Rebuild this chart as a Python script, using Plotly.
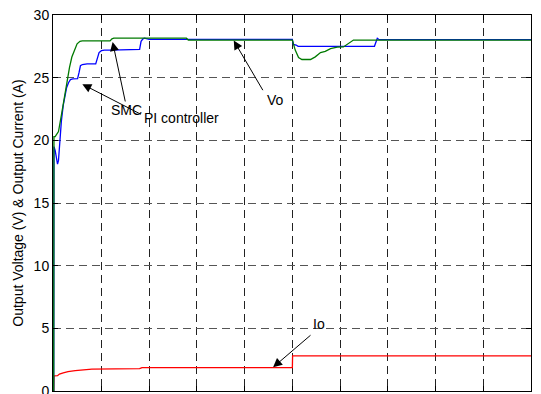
import plotly.graph_objects as go

# ---- data ----
smc_t = [0, 0.0005, 0.003, 0.010, 0.016, 0.021, 0.028, 0.033, 0.038, 0.044, 0.049, 0.055, 0.060,
         0.118, 0.122, 0.126, 0.278, 0.282, 0.500, 0.503, 0.506, 0.513, 0.520, 0.538, 0.548, 0.559,
         0.569, 0.580, 0.594, 0.607, 0.618, 0.624, 0.628, 1.0]
smc_v = [0, 20.3, 20.3, 20.7, 22.0, 23.2, 24.8, 25.8, 26.65, 27.3, 27.7, 27.9, 27.93,
         27.93, 28.1, 28.15, 28.15, 28.0, 28.0, 27.6, 27.2, 26.6, 26.45, 26.45, 26.66, 27.0,
         27.1, 27.32, 27.43, 27.45, 27.72, 27.9, 28.0, 28.0]

pi_t = [0, 0.0005, 0.003, 0.006, 0.008, 0.010, 0.013, 0.016, 0.020, 0.024, 0.027, 0.031, 0.035,
        0.040, 0.050, 0.053, 0.056, 0.060, 0.070, 0.088, 0.091, 0.095, 0.100, 0.106, 0.120,
        0.180, 0.183, 0.187, 0.190, 0.195, 0.200, 0.500, 0.502, 0.508, 0.512, 0.672, 0.675,
        0.678, 0.682, 1.0]
pi_v = [0, 19.5, 19.2, 18.6, 18.1, 18.4, 20.0, 21.5, 22.8, 23.5, 24.2, 24.6, 24.85,
        24.9, 24.92, 25.4, 25.95, 26.05, 26.1, 26.1, 26.5, 27.0, 27.15, 27.2, 27.2,
        27.25, 27.9, 28.1, 28.15, 28.1, 28.05, 28.05, 27.65, 27.6, 27.5, 27.5, 27.9,
        28.14, 28.03, 28.03]

io_t = [0, 0.0005, 0.008, 0.012, 0.020, 0.030, 0.045, 0.060, 0.080, 0.180, 0.185, 0.500, 0.5005, 1.0]
io_v = [0, 1.2, 1.22, 1.35, 1.45, 1.55, 1.62, 1.70, 1.75, 1.78, 1.86, 1.87, 2.8, 2.8]

y_ticks = [0, 5, 10, 15, 20, 25, 30]
y_title = "Output Voltage (V) & Output Current (A)"

FONT = "Arial, Liberation Sans, sans-serif"

fig = go.Figure()
fig.add_trace(go.Scatter(x=io_t, y=io_v, mode="lines", line=dict(color="#FF0000", width=1.3)))
fig.add_trace(go.Scatter(x=pi_t, y=pi_v, mode="lines", line=dict(color="#0000FF", width=1.3)))
fig.add_trace(go.Scatter(x=smc_t, y=smc_v, mode="lines", line=dict(color="#007A00", width=1.3)))

arrows = [
    (0.1234, 27.85, 0.1506, 22.98),
    (0.060, 24.48, 0.1856, 22.02),
    (0.3772, 27.96, 0.44, 23.88),
    (0.4596, 1.89, 0.5412, 4.55),
]
for hx, hy, tx, ty in arrows:
    fig.add_annotation(x=hx, y=hy, ax=tx, ay=ty, axref="x", ayref="y", xref="x", yref="y",
                       text="", showarrow=True, arrowhead=2, arrowsize=1.8, arrowwidth=1,
                       arrowcolor="black", standoff=0, startstandoff=0)

labels = [("SMC", 0.1517, 22.45), ("PI controller", 0.2674, 21.78), ("Vo", 0.4644, 23.2), ("Io", 0.556, 5.35)]
for txt, x, y in labels:
    fig.add_annotation(x=x, y=y, xref="x", yref="y", text=txt, showarrow=False,
                       font=dict(family=FONT, size=14, color="black"))

axis_common = dict(showline=True, linecolor="black", linewidth=1, mirror="ticks",
                   ticks="inside", ticklen=5, tickcolor="black", zeroline=False,
                   showgrid=True, gridwidth=1, griddash="8px,5px", automargin=False)

fig.update_xaxes(range=[-0.0015, 1], dtick=0.1, tick0=0, showticklabels=False,
                 gridcolor="#222222", **axis_common)
fig.update_yaxes(range=[0, 30], tickvals=y_ticks, ticktext=[str(v) for v in y_ticks],
                 tickfont=dict(family=FONT, size=14, color="black"), ticklabeloverflow="allow",
                 gridcolor="#555555",
                 title=dict(text=y_title, font=dict(family=FONT, size=14, color="black"), standoff=6),
                 **axis_common)

fig.update_layout(width=541, height=394, margin=dict(l=53, r=10, t=15, b=3, autoexpand=False),
                  paper_bgcolor="white", plot_bgcolor="white", showlegend=False,
                  font=dict(family=FONT))

fig.write_html("out.html")
